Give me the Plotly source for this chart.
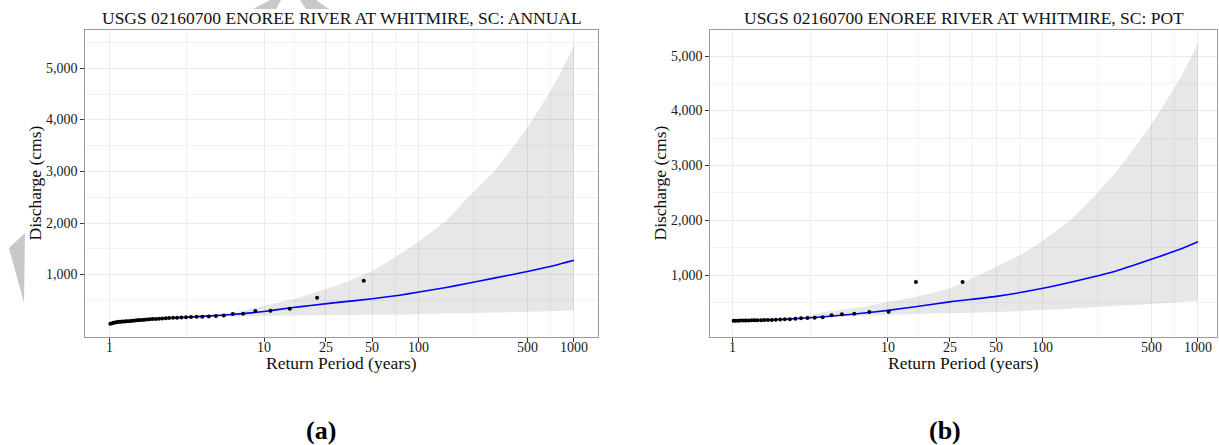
import math
import plotly.graph_objects as go

W, H = 1219, 445
SERIF = "Liberation Serif"

# ---------------- Annual maximum series (panel a) ----------------
annual_T = [44.0, 22.0, 14.67, 11.0, 8.8, 7.33, 6.29, 5.5, 4.89, 4.4, 4.0, 3.67,
            3.38, 3.14, 2.93, 2.75, 2.59, 2.44, 2.32, 2.2, 2.1, 2.0, 1.91, 1.83,
            1.76, 1.69, 1.63, 1.57, 1.52, 1.47, 1.42, 1.38, 1.33, 1.29, 1.26,
            1.22, 1.19, 1.16, 1.13, 1.1, 1.07, 1.05, 1.02]
annual_Q = [884, 555, 342, 304, 298, 246, 240, 213, 201, 192, 189, 186,
            182, 178, 174, 170, 166, 162, 158, 154, 150, 146, 142, 138,
            134, 130, 126, 122, 118, 114, 110, 106, 102, 99, 97,
            95, 92, 88, 84, 78, 70, 62, 53]

annual_fit_T = [1.01, 1.05, 1.1, 1.2, 1.3, 1.5, 1.75, 2, 2.5, 3, 4, 5, 7, 10,
                15, 20, 30, 50, 75, 100, 150, 200, 300, 500, 750, 1000]
annual_fit_Q = [50, 62, 76, 93, 100, 117, 133, 146, 163, 176, 195, 212, 243, 290,
                360, 405, 465, 535, 605, 665, 755, 825, 930, 1065, 1180, 1280]

annual_ci_T = [1.01, 1.5, 2, 3, 5, 7, 10, 15, 20, 30, 50, 75, 100, 150, 200,
               300, 500, 750, 1000]
annual_ci_hi = [52, 120, 150, 188, 240, 295, 400, 520, 630, 800, 1080, 1400,
                1650, 2050, 2450, 2980, 3850, 4700, 5450]
annual_ci_lo = [48, 114, 142, 166, 188, 197, 205, 212, 216, 221, 228, 233,
                238, 248, 256, 268, 285, 300, 315]

# ---------------- Peaks-over-threshold series (panel b) ----------------
pot_T = [30.3, 15.15, 10.1, 7.58, 6.06, 5.05, 4.33, 3.79, 3.37, 3.03, 2.75,
         2.53, 2.33, 2.16, 2.02, 1.89, 1.78, 1.68, 1.59, 1.52, 1.44, 1.38,
         1.32, 1.26, 1.21, 1.17, 1.12, 1.08, 1.04, 1.01]
pot_Q = [872, 872, 330, 324, 293, 282, 264, 227, 220, 216, 209,
         202, 194, 190, 186, 183, 180, 178, 177, 176, 175, 173,
         172, 171, 170, 169, 168, 167, 166, 165]

pot_fit_T = [1.0, 1.5, 2, 3, 5, 7, 10, 15, 25, 50, 100, 200, 300, 500, 750, 1000]
pot_fit_Q = [165, 176, 188, 215, 265, 305, 355, 420, 510, 610, 757, 950, 1079,
             1287, 1460, 1608]

pot_ci_T = [1.0, 2, 3, 4, 7, 10, 15, 25, 50, 75, 100, 150, 200, 300, 500, 750, 1000]
pot_ci_hi = [168, 200, 260, 330, 420, 513, 600, 757, 1152, 1400, 1630, 2000,
             2350, 2900, 3750, 4550, 5220]
pot_ci_lo = [162, 180, 200, 222, 255, 275, 288, 300, 325, 343, 360, 385,
             405, 435, 470, 505, 531]

x_breaks = [1, 10, 25, 50, 100, 500, 1000]
x_labels = ["1", "10", "25", "50", "100", "500", "1000"]
x_minor = [3.162, 15.81, 35.36, 70.71, 223.6, 707.1]
y_breaks = [1000, 2000, 3000, 4000, 5000]
y_labels = ["1,000", "2,000", "3,000", "4,000", "5,000"]
y_minor = [500, 1500, 2500, 3500, 4500, 5500]

titles = ["USGS 02160700 ENOREE RIVER AT WHITMIRE, SC: ANNUAL",
          "USGS 02160700 ENOREE RIVER AT WHITMIRE, SC: POT"]
panel_tags = ["(a)", "(b)"]

# panel geometry in pixels: (left, right) of plot frame, log-x range
frames = [(85, 598, [-0.155, 3.155]), (710, 1217, [-0.148, 3.123])]
frame_top, frame_bottom = 30, 337
y_ranges = [[-205, 5741], [-132, 5475]]
tag_x = [321, 945]


def px(x):
    return x / W


def py(y):
    return 1 - y / H


fig = go.Figure()

panels = [
    (annual_T, annual_Q, annual_fit_T, annual_fit_Q, annual_ci_T, annual_ci_lo, annual_ci_hi),
    (pot_T, pot_Q, pot_fit_T, pot_fit_Q, pot_ci_T, pot_ci_lo, pot_ci_hi),
]

for i, (T, Q, fT, fQ, cT, clo, chi) in enumerate(panels):
    xa = "x" if i == 0 else "x2"
    ya = "y" if i == 0 else "y2"
    # confidence band: lower bound, then upper bound filled down to it
    fig.add_trace(go.Scatter(
        x=cT, y=clo, mode="lines", line=dict(width=0, shape="spline", smoothing=0.6),
        hoverinfo="skip", showlegend=False, xaxis=xa, yaxis=ya))
    fig.add_trace(go.Scatter(
        x=cT, y=chi, mode="lines", fill="tonexty", fillcolor="rgba(0,0,0,0.095)",
        line=dict(width=0, shape="spline", smoothing=0.6),
        hoverinfo="skip", showlegend=False, xaxis=xa, yaxis=ya))
    # fitted frequency curve
    fig.add_trace(go.Scatter(
        x=fT, y=fQ, mode="lines",
        line=dict(color="#0000FF", width=1.6, shape="spline", smoothing=0.6),
        showlegend=False, xaxis=xa, yaxis=ya))
    # observed plotting positions
    fig.add_trace(go.Scatter(
        x=T, y=Q, mode="markers", marker=dict(color="black", size=4),
        showlegend=False, xaxis=xa, yaxis=ya))

axis_common = dict(
    showline=True, linecolor="#9a9a9a", linewidth=1, mirror=True,
    showgrid=True, gridcolor="#EBEBEB", gridwidth=1, zeroline=False,
    ticks="outside", ticklen=4, tickcolor="#333333", tickwidth=1,
    showticklabels=False,
)

layout_axes = {}
for i, (l, r, xr) in enumerate(frames):
    suffix = "" if i == 0 else "2"
    layout_axes["xaxis" + suffix] = dict(
        axis_common, type="log", range=xr, domain=[px(l), px(r)],
        anchor="y" + suffix, tickmode="array", tickvals=x_breaks,
        minor=dict(tickmode="array", tickvals=x_minor, showgrid=True,
                   gridcolor="#F2F2F2", gridwidth=1))
    layout_axes["yaxis" + suffix] = dict(
        axis_common, range=y_ranges[i], domain=[py(frame_bottom), py(frame_top)],
        anchor="x" + suffix, tickmode="array", tickvals=y_breaks,
        minor=dict(tickmode="array", tickvals=y_minor, showgrid=True,
                   gridcolor="#F2F2F2", gridwidth=1))

tick_font = dict(family=SERIF, size=14, color="#1a1a1a")
label_font = dict(family=SERIF, size=17.5, color="#111")

annotations = []
for i, (l, r, _) in enumerate(frames):
    suffix = "" if i == 0 else "2"
    cx = (l + r) / 2
    # tick labels
    for v, t in zip(x_breaks, x_labels):
        annotations.append(dict(text=t, x=math.log10(v), y=py(347), xref="x" + suffix,
                                yref="paper", showarrow=False, xanchor="center",
                                yanchor="middle", font=tick_font))
    for v, t in zip(y_breaks, y_labels):
        annotations.append(dict(text=t, x=px(l - 5), y=v, xref="paper", yref="y" + suffix,
                                showarrow=False, xanchor="right", yanchor="middle",
                                font=tick_font))
    annotations.append(dict(text=titles[i], x=px(cx), y=py(18), xref="paper", yref="paper",
                            showarrow=False, xanchor="center", yanchor="middle",
                            font=label_font))
    annotations.append(dict(text="Return Period (years)", x=px(cx), y=py(363),
                            xref="paper", yref="paper", showarrow=False,
                            xanchor="center", yanchor="middle", font=label_font))
    annotations.append(dict(text="Discharge (cms)", x=px(l - 51),
                            y=py((frame_top + frame_bottom) / 2),
                            xref="paper", yref="paper", showarrow=False, textangle=-90,
                            xanchor="center", yanchor="middle", font=label_font))
    annotations.append(dict(text="<b>%s</b>" % panel_tags[i], x=px(tag_x[i]), y=py(430),
                            xref="paper", yref="paper", showarrow=False,
                            xanchor="center", yanchor="middle",
                            font=dict(family=SERIF, size=26, color="black")))

# grey page decorations
shapes = [
    dict(type="path", xref="paper", yref="paper",
         path="M %f,%f L %f,%f L %f,%f Z" % (px(9), py(248), px(25), py(233), px(24), py(303)),
         fillcolor="#C8C8C8", line=dict(width=0), layer="above"),
    dict(type="path", xref="paper", yref="paper",
         path="M %f,%f L %f,%f L %f,%f L %f,%f Z" % (px(253), py(9), px(270), py(0),
                                                    px(281), py(0), px(276), py(9)),
         fillcolor="#C8C8C8", line=dict(width=0), layer="above"),
    dict(type="path", xref="paper", yref="paper",
         path="M %f,%f L %f,%f L %f,%f L %f,%f Z" % (px(300), py(0), px(316), py(0),
                                                    px(329), py(9), px(306), py(9)),
         fillcolor="#C8C8C8", line=dict(width=0), layer="above"),
]

fig.update_layout(
    width=W, height=H, margin=dict(l=0, r=0, t=0, b=0),
    paper_bgcolor="white", plot_bgcolor="white",
    annotations=annotations, shapes=shapes, **layout_axes,
)

fig.write_html("out.html")
